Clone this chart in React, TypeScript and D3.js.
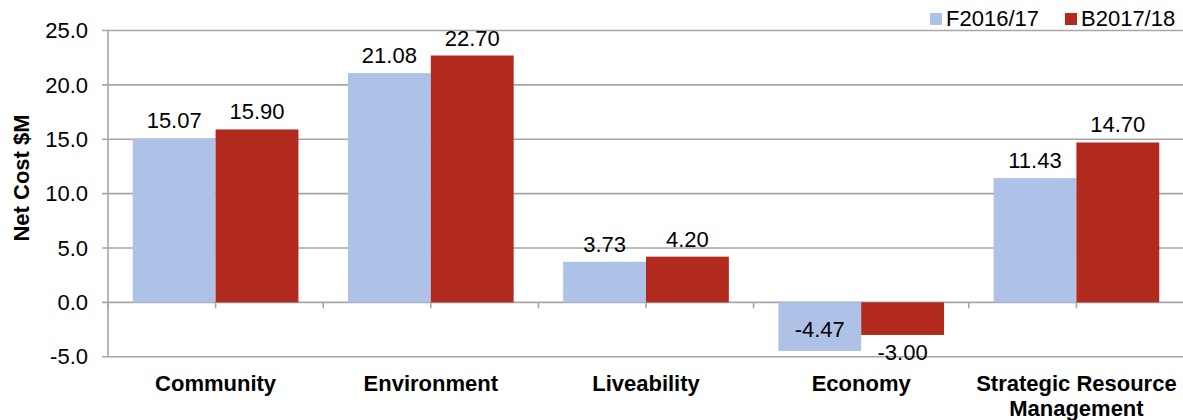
import React from "react";
import * as d3 from "d3";

const categories = ["Community", "Environment", "Liveability", "Economy", "Strategic Resource Management"];
const seriesNames = ["F2016/17", "B2017/18"];
const forecast = [15.07, 21.08, 3.73, -4.47, 11.43];
const budget = [15.9, 22.7, 4.2, -3.0, 14.7];
const yTicks = [25, 20, 15, 10, 5, 0, -5];

const colors = ["#AEC2E8", "#B22A1E"];
const font = "Arial, 'Liberation Sans', sans-serif";

// Excel style numbers use a plain hyphen for negatives
const fmt = (spec) => {
    const f = d3.format(spec)
    return v => f(v).replace("\u2212", "-")
}

const App = () => {
    const svgRef = React.useRef(null);

    React.useEffect(() => {
        drawChart()
    }, []);

    const drawChart = () => {
        if (!svgRef.current) return
        const left = 108
        const right = 1184
        const top = 30.5
        const bottom = 356.7

        const svg = d3.select(svgRef.current)
        svg.selectAll("*").remove()

        const y = d3.scaleLinear().domain([-5, 25]).range([bottom, top])
        const x0 = d3.scaleBand().domain(categories).range([left, right]).padding(0)
        const bw = x0.bandwidth()
        const x1 = d3.scaleBand().domain(seriesNames).range([0.115 * bw, 0.885 * bw]).padding(0)

        // cut-off title at the top: the reference only shows the bottom of two
        // descenders, so the wording here is a guess and is not from the source
        svg.append("text")
            .attr("x", 28)
            .attr("y", -6.5)
            .style("font", `bold 30px ${font}`)
            .attr("fill", "#217DBE")
            .text("Budget by Category")

        // gridlines
        svg.append("g")
            .selectAll("line")
            .data(yTicks)
            .join("line")
            .attr("x1", left - 6)
            .attr("x2", right)
            .attr("y1", d => y(d))
            .attr("y2", d => y(d))
            .attr("stroke", "#A6A6A6")
            .attr("stroke-width", 1.6)

        // y axis line
        svg.append("line")
            .attr("x1", left).attr("x2", left)
            .attr("y1", top).attr("y2", bottom)
            .attr("stroke", "#A6A6A6")
            .attr("stroke-width", 1.6)

        // y tick labels
        svg.append("g")
            .selectAll("text")
            .data(yTicks)
            .join("text")
            .attr("x", 88)
            .attr("y", d => y(d))
            .attr("dy", "0.35em")
            .attr("text-anchor", "end")
            .style("font", `22px ${font}`)
            .attr("fill", "#000")
            .text(fmt(".1f"))

        // category ticks on zero line
        const tickXs = []
        categories.forEach((c, i) => {
            tickXs.push(x0(c))
            tickXs.push(x0(c) + bw / 2)
            if (i === categories.length - 1) tickXs.push(x0(c) + bw)
        })
        svg.append("g")
            .selectAll("line")
            .data(tickXs)
            .join("line")
            .attr("x1", d => d).attr("x2", d => d)
            .attr("y1", y(0)).attr("y2", y(0) + 6)
            .attr("stroke", "#A6A6A6")
            .attr("stroke-width", 1.6)

        // bars
        const rows = categories.map((c, i) => [
            { cat: c, key: seriesNames[0], value: forecast[i] },
            { cat: c, key: seriesNames[1], value: budget[i] },
        ])
        const group = svg.append("g")
            .selectAll("g")
            .data(rows)
            .join("g")
            .attr("transform", d => `translate(${x0(d[0].cat)},0)`)

        group.selectAll("rect")
            .data(d => d)
            .join("rect")
            .attr("x", d => x1(d.key))
            .attr("width", x1.bandwidth())
            .attr("y", d => y(Math.max(0, d.value)))
            .attr("height", d => Math.abs(y(d.value) - y(0)))
            .attr("fill", (d, i) => colors[i])

        // value labels
        const valFmt = fmt(".2f")
        group.selectAll("text")
            .data(d => d)
            .join("text")
            .attr("x", d => x1(d.key) + x1.bandwidth() / 2)
            .attr("y", d => {
                if (d.value >= 0) return y(d.value) - 10
                const below = y(d.value) + 25
                return below > bottom + 4 ? y(d.value) - 14 : below
            })
            .attr("text-anchor", "middle")
            .style("font", `22px ${font}`)
            .attr("fill", "#000")
            .text(d => valFmt(d.value))

        // category labels
        const catLabel = svg.append("g")
            .selectAll("text")
            .data(categories)
            .join("text")
            .attr("x", d => x0(d) + bw / 2)
            .attr("y", 391)
            .attr("text-anchor", "middle")
            .style("font", `bold 22px ${font}`)
            .attr("fill", "#000")
        catLabel.each(function (d) {
            const lines = d === "Strategic Resource Management" ? ["Strategic Resource", "Management"] : [d]
            d3.select(this)
                .selectAll("tspan")
                .data(lines)
                .join("tspan")
                .attr("x", x0(d) + bw / 2)
                .attr("dy", (l, i) => i === 0 ? 0 : 25)
                .text(l => l)
        })

        // y axis title
        svg.append("text")
            .attr("transform", `translate(29, 178) rotate(-90)`)
            .attr("text-anchor", "middle")
            .style("font", `bold 22px ${font}`)
            .attr("fill", "#000")
            .text("Net Cost $M")

        // legend
        const legend = svg.append("g")
            .selectAll("g")
            .data(seriesNames)
            .join("g")
            .attr("transform", (d, i) => `translate(${930 + i * 135},0)`)
        legend.append("rect")
            .attr("x", 0).attr("y", 13)
            .attr("width", 12).attr("height", 12)
            .attr("fill", (d, i) => colors[i])
        legend.append("text")
            .attr("x", 16).attr("y", 26)
            .style("font", `22px ${font}`)
            .attr("fill", "#000")
            .text(d => d)

        return svg.node()
    }

    return (
        <svg
            ref={svgRef}
            width={1183}
            height={420}
            style={{ position: "absolute", left: 0, top: 0, background: "#fff", overflow: "hidden" }}
        />
    )
}

export default App
